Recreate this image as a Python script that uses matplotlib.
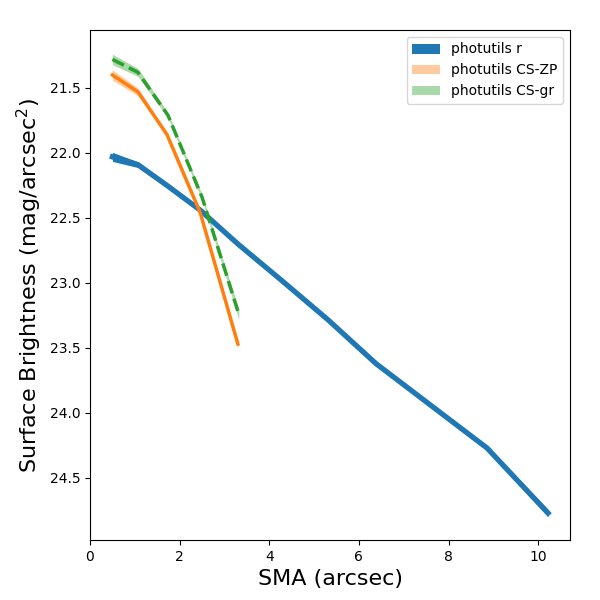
import matplotlib
matplotlib.use("Agg")
import matplotlib.pyplot as plt
import numpy as np
from matplotlib.patches import Patch

# Data
sma_r = [0.5, 1.07, 1.72, 2.46, 3.30, 4.24, 5.30, 6.38, 7.60, 8.86, 10.22]
sb_r = [22.03, 22.09, 22.25, 22.44, 22.70, 22.97, 23.28, 23.62, 23.94, 24.27, 24.77]
err_r = [0.035, 0.022, 0.018, 0.016, 0.016, 0.016, 0.016, 0.016, 0.018, 0.018, 0.028]

sma_zp = [0.5, 1.07, 1.72, 2.46, 3.30]
sb_zp = [21.40, 21.53, 21.86, 22.46, 23.47]
err_zp = [0.04, 0.03, 0.015, 0.012, 0.03]

sma_gr = [0.5, 1.07, 1.74, 2.50, 3.32]
sb_gr = [21.28, 21.38, 21.71, 22.34, 23.24]
err_gr = [0.04, 0.03, 0.02, 0.02, 0.04]

labels = ["photutils r", "photutils CS-ZP", "photutils CS-gr"]

fig = plt.figure(figsize=(6, 6), dpi=100)
ax = fig.add_axes([0.15, 0.10, 0.80, 0.85])

r = np.array(sb_r); er = np.array(err_r)
ax.fill_between(sma_r, r - er, r + er, color="C0", alpha=1.0, lw=0)
ax.plot(sma_r, sb_r, color="C0", lw=3.8)

z = np.array(sb_zp); ez = np.array(err_zp)
ax.fill_between(sma_zp, z - ez, z + ez, color="C1", alpha=0.4, lw=0)
ax.plot(sma_zp, sb_zp, color="C1", lw=2.5)

g = np.array(sb_gr); eg = np.array(err_gr)
ax.fill_between(sma_gr, g - eg, g + eg, color="C2", alpha=0.4, lw=0)
ax.plot(sma_gr, sb_gr, color="C2", lw=2.5, ls="--")

ax.set_xlim(0, 10.71)
ax.set_ylim(24.977, 21.054)
ax.set_xlabel("SMA (arcsec)", fontsize=16)
ax.set_ylabel("Surface Brightness (mag/arcsec$^2$)", fontsize=16)

handles = [Patch(facecolor="C0", alpha=1.0),
           Patch(facecolor="C1", alpha=0.4),
           Patch(facecolor="C2", alpha=0.4)]
ax.legend(handles, labels, loc="upper right")

fig.savefig("out.png", dpi=100)
